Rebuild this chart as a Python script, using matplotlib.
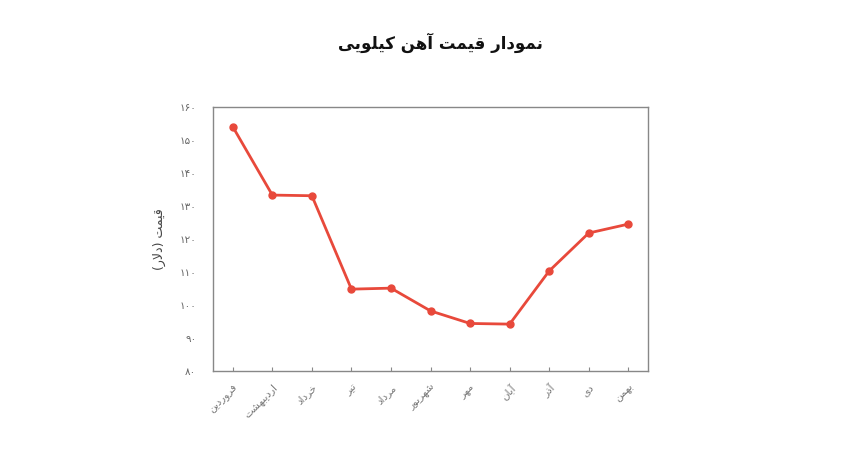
import matplotlib
matplotlib.use('Agg')
import matplotlib.pyplot as plt

# chart data
months = ['فروردین', 'اردیبهشت', 'خرداد', 'تیر', 'مرداد', 'شهریور',
          'مهر', 'آبان', 'آذر', 'دی', 'بهمن']
prices = [154, 133.3, 133.1, 104.8, 105.1, 98.2, 94.4, 94.2, 110.3, 121.8, 124.5]
yticks = [80, 90, 100, 110, 120, 130, 140, 150, 160]
title = 'نمودار قیمت آهن کیلویی'
ylabel = 'قیمت (دلار)'

# small arabic/persian shaper: (isolated, final, initial, medial)
FORMS = {
    'ا': ('\uFE8D', '\uFE8E', None, None),
    'آ': ('\uFE81', '\uFE82', None, None),
    'د': ('\uFEA9', '\uFEAA', None, None),
    'ذ': ('\uFEAB', '\uFEAC', None, None),
    'ر': ('\uFEAD', '\uFEAE', None, None),
    'ز': ('\uFEAF', '\uFEB0', None, None),
    'و': ('\uFEED', '\uFEEE', None, None),
    'ب': ('\uFE8F', '\uFE90', '\uFE91', '\uFE92'),
    'ت': ('\uFE95', '\uFE96', '\uFE97', '\uFE98'),
    'خ': ('\uFEA5', '\uFEA6', '\uFEA7', '\uFEA8'),
    'ش': ('\uFEB5', '\uFEB6', '\uFEB7', '\uFEB8'),
    'ف': ('\uFED1', '\uFED2', '\uFED3', '\uFED4'),
    'ق': ('\uFED5', '\uFED6', '\uFED7', '\uFED8'),
    'ل': ('\uFEDD', '\uFEDE', '\uFEDF', '\uFEE0'),
    'م': ('\uFEE1', '\uFEE2', '\uFEE3', '\uFEE4'),
    'ن': ('\uFEE5', '\uFEE6', '\uFEE7', '\uFEE8'),
    'ه': ('\uFEE9', '\uFEEA', '\uFEEB', '\uFEEC'),
    'ی': ('\uFBFC', '\uFBFD', '\uFBFE', '\uFBFF'),
    'ک': ('\uFB8E', '\uFB8F', '\uFB90', '\uFB91'),
}
LAMALEF = {'ا': ('\uFEFB', '\uFEFC'), 'آ': ('\uFEF5', '\uFEF6')}
MIRROR = {'(': ')', ')': '('}


def dual(c):
    return c in FORMS and FORMS[c][2] is not None


def shape(s):
    # merge lam-alef first
    chars = []
    i = 0
    while i < len(s):
        if s[i] == 'ل' and i + 1 < len(s) and s[i + 1] in LAMALEF:
            chars.append(('LA', s[i + 1]))
            i += 2
        else:
            chars.append(s[i])
            i += 1
    out = []
    for i, c in enumerate(chars):
        prev = chars[i - 1] if i > 0 else None
        nxt = chars[i + 1] if i + 1 < len(chars) else None
        join_prev = isinstance(prev, str) and dual(prev)
        if isinstance(c, tuple):
            iso, fin = LAMALEF[c[1]]
            out.append(fin if join_prev else iso)
            continue
        if c not in FORMS:
            out.append(MIRROR.get(c, c))
            continue
        iso, fin, ini, med = FORMS[c]
        join_next = dual(c) and nxt is not None and (isinstance(nxt, tuple) or nxt in FORMS)
        if join_prev and join_next:
            out.append(med)
        elif join_prev:
            out.append(fin)
        elif join_next:
            out.append(ini)
        else:
            out.append(iso)
    return ''.join(out[::-1])


def fa_num(n):
    return str(n).translate(str.maketrans('0123456789', '۰۱۲۳۴۵۶۷۸۹'))


plt.rcParams['font.family'] = ['DejaVu Sans']

fig = plt.figure(figsize=(8.5, 4.5), dpi=100)
ax = fig.add_axes([0.2506, 0.1756, 0.5118, 0.5867])

x = list(range(len(months)))
ax.plot(x, prices, color='#e8493b', linewidth=2, marker='o', markersize=5, zorder=3)

ax.set_xlim(-0.5, 10.5)
ax.set_ylim(80, 160)
ax.set_yticks(yticks)
ax.set_yticklabels([fa_num(v) for v in yticks], fontsize=7.5, color='#666666')
ax.set_xticks(x)
ax.set_xticklabels([shape(m) for m in months], rotation=45, ha='right',
                   rotation_mode='anchor', fontsize=7.5, color='#777777')
ax.tick_params(axis='x', direction='in', length=3, color='#888888', pad=8)
ax.tick_params(axis='y', length=0, pad=12)
for sp in ax.spines.values():
    sp.set_color('#888888')
    sp.set_linewidth(1)

ax.set_ylabel(shape(ylabel), fontsize=9, color='#444444', labelpad=10)
fig.text(0.518, 0.905, shape(title), ha='center', va='center', fontsize=12,
         fontweight='bold', color='#111111')

fig.savefig('out.png', dpi=100)
